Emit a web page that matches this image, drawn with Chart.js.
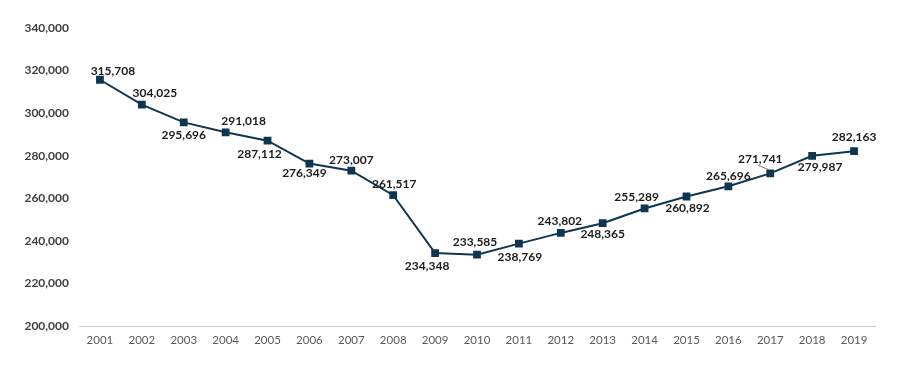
<!DOCTYPE html>
<html>
<head>
<meta charset="utf-8">
<script src="https://cdn.jsdelivr.net/npm/chart.js@4/dist/chart.umd.min.js"></script>
<style>
  html, body { margin: 0; padding: 0; background: #fff; }
  #wrap { width: 912px; height: 366px; }
</style>
</head>
<body>
<div id="wrap"><canvas id="c"></canvas></div>
<script>
// years and yearly totals
const years = ['2001','2002','2003','2004','2005','2006','2007','2008','2009','2010',
               '2011','2012','2013','2014','2015','2016','2017','2018','2019'];
const totals = [315708, 304025, 295696, 291018, 287112, 276349, 273007, 261517, 234348, 233585,
                238769, 243802, 248365, 255289, 260892, 265696, 271741, 279987, 282163];
const yTicks = [200000, 220000, 240000, 260000, 280000, 300000, 320000, 340000];

// where each value label sits relative to its marker (px)
const labelOffsets = [
    [13, -9], [13, -12], [0, 13], [18, -11], [-8, 13], [-5, 10], [0, -11], [1, -11], [-8, 13], [-2, -13],
    [1, 14], [-1, -12], [0, 11], [-8, -11], [1, 12], [0, -10], [-10, -14], [8, 11], [0, -14]
];

const navy = '#0f3550';

const valueLabels = {
    id: 'valueLabels',
    afterDatasetsDraw(chart) {
        const ctx = chart.ctx;
        const meta = chart.getDatasetMeta(0);
        ctx.save();
        ctx.font = 'bold 12px Lato, "Open Sans", sans-serif';
        ctx.fillStyle = '#1c1c1c';
        ctx.textAlign = 'center';
        ctx.textBaseline = 'middle';
        meta.data.forEach((pt, i) => {
            const [dx, dy] = labelOffsets[i];
            const txt = totals[i].toLocaleString('en-US');
            ctx.fillText(txt, pt.x + dx, pt.y + dy);
            if (years[i] === '2017') {
                // small leader line
                ctx.strokeStyle = '#555';
                ctx.lineWidth = 0.8;
                ctx.beginPath();
                ctx.moveTo(pt.x + dx - 2, pt.y + dy + 6);
                ctx.lineTo(pt.x - 2, pt.y - 4);
                ctx.stroke();
            }
        });
        ctx.restore();
    }
};

new Chart(document.getElementById('c'), {
    type: 'line',
    data: {
        labels: years,
        datasets: [{
            data: totals,
            borderColor: navy,
            backgroundColor: navy,
            borderWidth: 2,
            tension: 0,
            pointStyle: 'rect',
            pointRadius: 5.5,
            pointBorderWidth: 0,
            pointBackgroundColor: navy,
            fill: false
        }]
    },
    options: {
        responsive: true,
        maintainAspectRatio: false,
        animation: false,
        layout: { padding: { top: 28, right: 37, bottom: 12, left: 0 } },
        scales: {
            x: {
                offset: true,
                grid: { display: false, drawTicks: false },
                border: { display: true, color: '#c8c8c8', width: 1 },
                ticks: {
                    color: '#595959',
                    padding: 7,
                    maxRotation: 0,
                    font: { family: 'Lato, "Open Sans", sans-serif', size: 11.5 }
                }
            },
            y: {
                min: 200000,
                max: 340000,
                afterFit(scale) { scale.width = 79; },
                afterBuildTicks(scale) { scale.ticks = yTicks.map(v => ({ value: v })); },
                grid: { display: false, drawTicks: false },
                border: { display: false },
                ticks: {
                    color: '#404040',
                    padding: 10,
                    font: { family: 'Lato, "Open Sans", sans-serif', size: 12, weight: 'bold' },
                    callback: v => v.toLocaleString('en-US')
                }
            }
        },
        plugins: {
            legend: { display: false },
            tooltip: { enabled: false }
        }
    },
    plugins: [valueLabels]
});
</script>
</body>
</html>
